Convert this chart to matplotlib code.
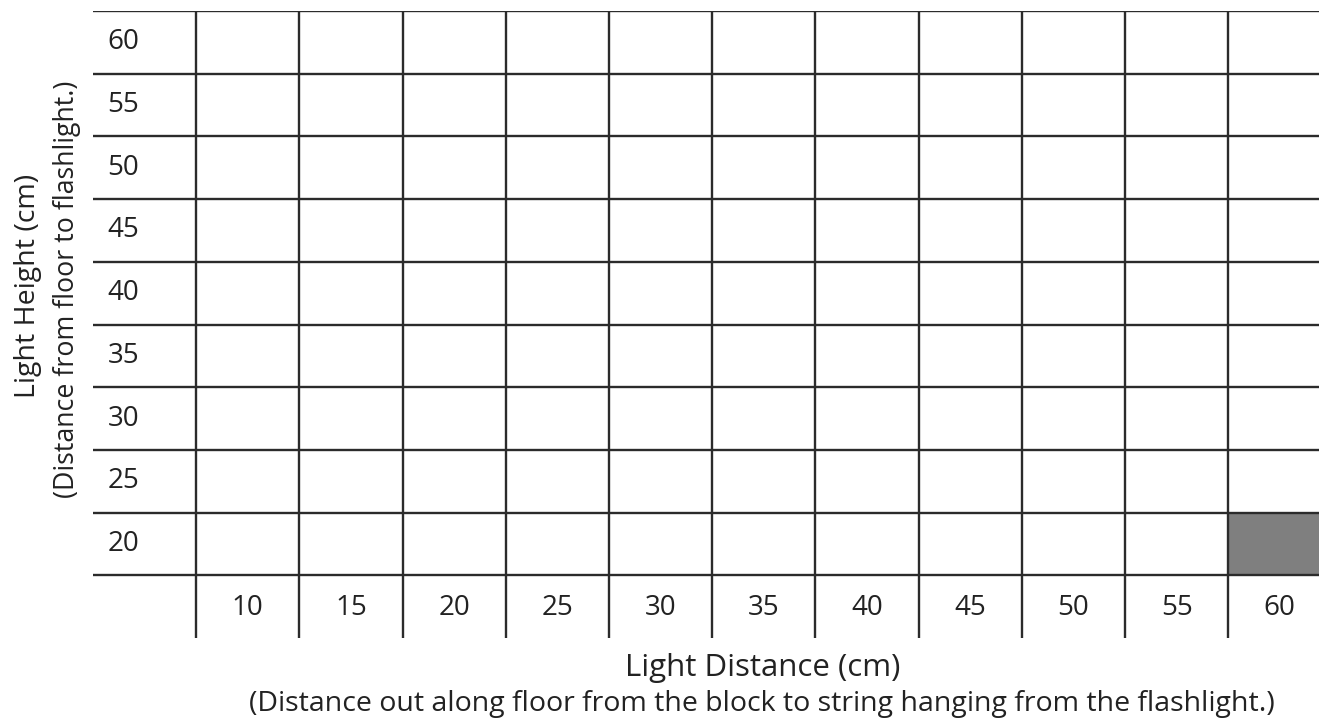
import numpy as np
import matplotlib.pyplot as plt
from matplotlib.patches import Rectangle

plt.rcParams['font.family'] = ['Open Sans', 'DejaVu Sans']

# data table: rows are light heights, columns are light distances
heights = [60, 55, 50, 45, 40, 35, 30, 25, 20]
distances = [10, 15, 20, 25, 30, 35, 40, 45, 50, 55, 60]
shaded = [(60, 20)]  # (distance, height) cells that are filled in

n_rows = len(heights)
n_cols = len(distances)

fig = plt.figure(figsize=(13.19, 7.25), dpi=100)
ax = fig.add_axes([93 / 1319, 1 - 638 / 725, 1 - 93 / 1319, (638 - 11) / 725])
# column -1 is the label column, row n_rows is the label row
ax.set_xlim(-1, n_cols - 1 + 0.88)
ax.set_ylim(n_rows + 1, 0)
ax.axis('off')

line_kw = dict(colors='#2b2b2b', linewidth=1.7)
ax.hlines(np.arange(n_rows + 1), -1, n_cols, **line_kw)
ax.vlines(np.arange(n_cols), 0, n_rows + 1, **line_kw)

for d, h in shaded:
    c = distances.index(d)
    r = heights.index(h)
    ax.add_patch(Rectangle((c, r), 1, 1, facecolor='#7f7f7f', edgecolor='none', zorder=0))

for r, h in enumerate(heights):
    ax.text(-1 + 0.14, r + 0.5, str(h), ha='left', va='center', fontsize=20, color='#222222')
for c, d in enumerate(distances):
    ax.text(c + 0.5, n_rows + 0.52, str(d), ha='center', va='center', fontsize=20, color='#222222')

fig.text(763 / 1319, 1 - 668 / 725, 'Light Distance (cm)', ha='center', va='center', fontsize=22.5, color='#222222')
fig.text(762 / 1319, 1 - 704 / 725,
         '(Distance out along floor from the block to string hanging from the flashlight.)',
         ha='center', va='center', fontsize=20.5, color='#222222')
fig.text(28 / 1319, 1 - 286 / 725, 'Light Height (cm)', rotation=90, ha='center', va='center',
         fontsize=20.5, color='#222222')
fig.text(67 / 1319, 1 - 289 / 725, '(Distance from floor to flashlight.)', rotation=90,
         ha='center', va='center', fontsize=19.3, color='#222222')

fig.savefig('out.png', dpi=100, facecolor='white')
